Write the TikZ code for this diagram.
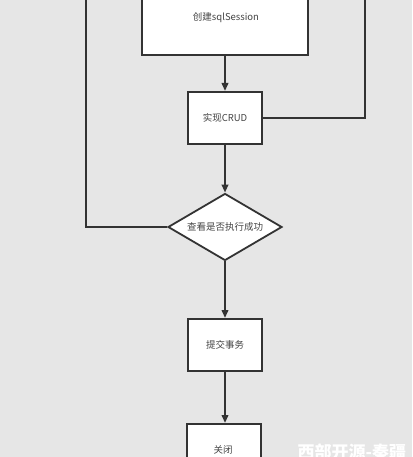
\documentclass[tikz,border=0pt]{standalone}
\usepackage{fontspec}
\newfontfamily\cjk{Noto Sans CJK SC}
\usetikzlibrary{shapes.geometric,arrows.meta}
\definecolor{bg}{HTML}{E6E6E6}
\definecolor{ln}{HTML}{333333}
\definecolor{tx}{HTML}{444444}
\begin{document}
\begin{tikzpicture}[x=1pt,y=-1pt,
  lbl/.style={font=\cjk\fontsize{9.5}{11}\selectfont,text=tx},
  box/.style={draw=ln,line width=2pt,fill=white,minimum width=74pt,minimum height=52pt,inner sep=0pt,lbl},
  dec/.style={diamond,draw=ln,line width=1.8pt,fill=white,minimum width=114pt,minimum height=67pt,inner sep=0pt,aspect=1.7,lbl},
  conn/.style={draw=ln,line width=2pt},
  arr/.style={conn,-{Triangle[length=8pt,width=6.5pt]}}]
\fill[bg] (0,0) rectangle (412,457);
\useasboundingbox (0,0) rectangle (412,457);
\begin{scope}
\clip (0,0) rectangle (412,457);
\node[box,minimum width=166pt,minimum height=80pt] (create) at (225,15) {};
\node[lbl] (createlbl) at (226,18) {创建sqlSession};
\node[box] (crud) at (225,118) {实现CRUD};
\node[dec] (check) at (225,227) {查看是否执行成功};
\node[box] (commit) at (225,345) {提交事务};
\node[box] (close) at (224,450) {};
\node[lbl] (closelbl) at (223,450) {关闭};
\coordinate (rtop) at (365,-5);
\coordinate (ltop) at (86,-5);
\draw[arr] (create.south -| crud.north) -- (crud.north);
\draw[arr] (crud.south) -- (check.north);
\draw[arr] (check.south) -- (commit.north -| check.south);
\draw[arr] (commit.south) -- (close.north -| commit.south);
\draw[conn] (crud.east) -| (rtop);
\draw[conn] (check.west) -| (ltop);
\node[anchor=west,text=white,font=\cjk\bfseries\fontsize{17}{18}\selectfont] (wm) at (294,452) {西部开源-秦疆};
\end{scope}
\end{tikzpicture}
\end{document}
